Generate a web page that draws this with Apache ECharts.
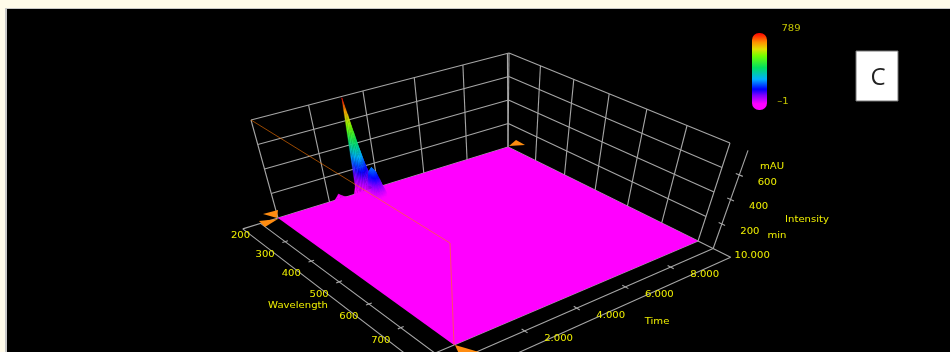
<!DOCTYPE html>
<html>
<head>
<meta charset="utf-8">
<style>
html, body { margin: 0; padding: 0; background: #fffbea; overflow: hidden; }
#main { width: 950px; height: 352px; filter: blur(0.4px); }
</style>
</head>
<body>
<div id="main"></div>
<script src="https://cdn.jsdelivr.net/npm/echarts@6/dist/echarts.min.js"></script>
<script>
// axis ranges and ticks
var wavelengthRange = [200, 800];
var timeRange = [0, 10];
var intensityMax = 800;
var wavelengthTicks = [200, 300, 400, 500, 600, 700];
var timeTicks = [2, 4, 6, 8, 10];
var intensityTicks = [200, 400, 600];
var colorbarMax = '789';
var colorbarMin = '\u20131';

// main peak, rows = wavelength, columns = time
var peakWavelengths = [200, 205, 210, 215, 220, 225, 230, 235, 240, 245, 250, 255, 260, 265, 270, 275, 280, 285, 290, 295, 300];
var peakTimes = [3.0, 3.1, 3.2, 3.3, 3.4, 3.5, 3.6, 3.7, 3.8, 3.9];
var peakIntensity = [
    [0, 60, 789, 650, 500, 360, 240, 140, 60, 0],
    [0, 55, 690, 570, 440, 315, 210, 125, 52, 0],
    [0, 48, 590, 490, 375, 270, 180, 105, 45, 0],
    [0, 40, 490, 405, 315, 225, 150, 90, 38, 0],
    [0, 35, 390, 325, 250, 180, 120, 72, 30, 0],
    [0, 28, 300, 250, 195, 140, 92, 55, 24, 0],
    [0, 22, 220, 185, 145, 105, 70, 42, 18, 0],
    [0, 16, 155, 135, 105, 78, 52, 32, 14, 0],
    [0, 12, 115, 110, 90, 68, 46, 28, 12, 0],
    [0, 14, 130, 140, 120, 90, 60, 32, 12, 0],
    [0, 20, 180, 195, 170, 125, 80, 40, 14, 0],
    [0, 25, 235, 255, 225, 165, 100, 48, 16, 0],
    [0, 28, 265, 285, 255, 185, 115, 52, 18, 0],
    [0, 26, 255, 275, 245, 180, 110, 50, 16, 0],
    [0, 22, 215, 235, 205, 150, 92, 42, 14, 0],
    [0, 16, 160, 175, 155, 112, 68, 32, 10, 0],
    [0, 10, 100, 110, 95, 70, 42, 20, 6, 0],
    [0, 5, 48, 52, 45, 32, 20, 9, 3, 0],
    [0, 2, 16, 18, 15, 11, 7, 3, 1, 0],
    [0, 0, 4, 5, 4, 3, 2, 1, 0, 0],
    [0, 0, 0, 0, 0, 0, 0, 0, 0, 0]
];

// small bump ahead of the main peak
var bumpWavelengths = [200, 210, 220, 230, 240];
var bumpTimes = [2.2, 2.3, 2.4, 2.5, 2.6, 2.7];
var bumpIntensity = [
    [0, 18, 42, 24, 10, 0],
    [0, 14, 32, 20, 8, 0],
    [0, 9, 20, 13, 5, 0],
    [0, 4, 9, 6, 2, 0],
    [0, 0, 0, 0, 0, 0]
];

// rainbow of the colour bar, bottom to top
var rainbow = [
    [0, '#ff00ff'], [0.08, '#ff00ff'], [0.19, '#8000ff'], [0.27, '#0000ff'], [0.4, '#00b0ff'],
    [0.55, '#00e060'], [0.7, '#70ff00'], [0.79, '#e0e000'], [0.88, '#ff9000'], [1, '#ff0000']
];

// view: wall bottom and top corners (left, front, right, back)
var floorQuad = [[278, 218], [454, 345], [698, 241], [508, 147]];
var topQuad = [[251, 120], [450, 243], [730, 143], [509, 53]];

function homography(q) {
    var dx1 = q[1][0] - q[2][0], dx2 = q[3][0] - q[2][0], sx = q[0][0] - q[1][0] + q[2][0] - q[3][0];
    var dy1 = q[1][1] - q[2][1], dy2 = q[3][1] - q[2][1], sy = q[0][1] - q[1][1] + q[2][1] - q[3][1];
    var den = dx1 * dy2 - dx2 * dy1;
    var g = (sx * dy2 - dx2 * sy) / den, h = (dx1 * sy - sx * dy1) / den;
    return [q[1][0] - q[0][0] + g * q[1][0], q[3][0] - q[0][0] + h * q[3][0], q[0][0],
            q[1][1] - q[0][1] + g * q[1][1], q[3][1] - q[0][1] + h * q[3][1], q[0][1], g, h];
}
var floorH = homography(floorQuad), topH = homography(topQuad);

function applyH(m, u, v) {
    var w = m[6] * u + m[7] * v + 1;
    return [(m[0] * u + m[1] * v + m[2]) / w, (m[3] * u + m[4] * v + m[5]) / w];
}

// wavelength, time, intensity -> plain position on the hidden x/y axes
function project(wl, t, z) {
    var u = (wl - wavelengthRange[0]) / (wavelengthRange[1] - wavelengthRange[0]);
    var v = (t - timeRange[0]) / (timeRange[1] - timeRange[0]);
    var a = applyH(floorH, u, v), b = applyH(topH, u, v), k = z / intensityMax;
    return [a[0] + (b[0] - a[0]) * k, a[1] + (b[1] - a[1]) * k];
}

function colorAt(f) {
    f = Math.max(0, Math.min(1, f));
    for (var i = 1; i < rainbow.length; i++) {
        if (f <= rainbow[i][0]) {
            var k = (f - rainbow[i - 1][0]) / (rainbow[i][0] - rainbow[i - 1][0]);
            return echarts.color.lerp(k, [rainbow[i - 1][1], rainbow[i][1]]);
        }
    }
    return rainbow[rainbow.length - 1][1];
}

var wlAxisT = -0.65, wlAxisOuterT = -1.3;
var timeAxisWl = 840, timeAxisOuterWl = 885;
var lineGray = '#a6a6a6';

// frame lines: [from, to, width]
var segments = [];
function seg(a, b) { segments.push([a, b]); }

var wallLevels = intensityTicks.concat([0, intensityMax]);
wallLevels.forEach(function (z) {
    seg([200, 0, z], [200, 10, z]);
    seg([200, 10, z], [800, 10, z]);
});
[0, 2, 4, 6, 8, 10].forEach(function (t) { seg([200, t, 0], [200, t, intensityMax]); });
[300, 400, 500, 600, 700, 800].forEach(function (wl) { seg([wl, 10, 0], [wl, 10, intensityMax]); });
seg([200, 10, 0], [200, 9.93, intensityMax]);

// floor outline and axis lines
seg([200, 0, 0], [200, wlAxisOuterT, 0]);
seg([800, 0, 0], [800, wlAxisOuterT, 0]);
seg([800, 10, 0], [timeAxisOuterWl, 10, 0]);
seg([800, 0, 0], [800, 10, 0]);
seg([200, wlAxisT, 0], [830, wlAxisT, 0]);
seg([200, wlAxisOuterT, 0], [830, wlAxisOuterT, 0]);
seg([timeAxisWl, -1, 0], [timeAxisWl, 10, 0]);
seg([timeAxisOuterWl, -1, 0], [timeAxisOuterWl, 10, 0]);
seg([timeAxisWl, 10, 0], [timeAxisWl, 10, intensityMax]);
wavelengthTicks.slice(1).forEach(function (wl) { seg([wl, wlAxisT - 0.1, 0], [wl, wlAxisT + 0.1, 0]); });
timeTicks.slice(0, 4).forEach(function (t) { seg([timeAxisWl - 8, t, 0], [timeAxisWl + 8, t, 0]); });
intensityTicks.forEach(function (z) { seg([timeAxisWl - 8, 10, z], [timeAxisWl + 8, 10, z]); });

// surface cells, far ones first
var cells = [];
function addCells(wls, ts, vals) {
    for (var i = 0; i < wls.length - 1; i++) {
        for (var j = ts.length - 2; j >= 0; j--) {
            var q = [[wls[i], ts[j], vals[i][j]], [wls[i], ts[j + 1], vals[i][j + 1]],
                     [wls[i + 1], ts[j + 1], vals[i + 1][j + 1]], [wls[i + 1], ts[j], vals[i + 1][j]]];
            if (q[0][2] + q[1][2] + q[2][2] + q[3][2] > 0) cells.push(q);
        }
    }
}
addCells(bumpWavelengths, bumpTimes, bumpIntensity);
addCells(peakWavelengths, peakTimes, peakIntensity);

function renderSeg(params, api) {
    var s = segments[params.dataIndex];
    var a = api.coord(project(s[0][0], s[0][1], s[0][2]));
    var b = api.coord(project(s[1][0], s[1][1], s[1][2]));
    return { type: 'line', shape: { x1: a[0], y1: a[1], x2: b[0], y2: b[1] }, style: { stroke: lineGray, lineWidth: 1.1 } };
}

function renderCell(params, api) {
    var q = cells[params.dataIndex];
    var pts = q.map(function (p) { return api.coord(project(p[0], p[1], p[2])); });
    var zs = q.map(function (p) { return p[2]; });
    var lo = Math.min.apply(null, zs), hi = Math.max.apply(null, zs);
    var loPt = pts[zs.indexOf(lo)], hiPt = pts[zs.indexOf(hi)];
    var fill = colorAt(lo / 789);
    if (hi > lo && Math.abs(hiPt[1] - loPt[1]) > 0.5) {
        var stops = [];
        for (var k = 0; k <= 6; k++) stops.push({ offset: k / 6, color: colorAt((lo + (hi - lo) * k / 6) / 789) });
        fill = new echarts.graphic.LinearGradient(0, loPt[1], 0, hiPt[1], stops, true);
    }
    return { type: 'polygon', shape: { points: pts }, style: { fill: fill, stroke: fill, lineWidth: 0.3 } };
}

function renderFloor(params, api) {
    var pts = [[200, 0], [800, 0], [800, 10], [200, 10]].map(function (p) {
        return api.coord(project(p[0], p[1], 0));
    });
    return { type: 'polygon', shape: { points: pts }, style: { fill: '#ff00ff' } };
}

// cursor: top left edge, then down the front corner
var cursorPath = [[200, 0, intensityMax], [800, 0, intensityMax], [800, 0, 0]];
function renderCursor(params, api) {
    var pts = cursorPath.map(function (p) { return api.coord(project(p[0], p[1], p[2])); });
    return { type: 'polyline', shape: { points: pts }, style: { stroke: 'rgba(255,120,0,0.6)', lineWidth: 1, fill: null } };
}

// orange cursor flags: anchor corner and pixel outline around it
var flags = [
    { at: [200, 0, 0], pts: [[-15, -4], [0, -8], [-1, 0]] },
    { at: [200, 0, 0], pts: [[-19, 3], [0, 1], [-13, 9]] },
    { at: [200, 10, 0], pts: [[1, -1], [17, -2], [8, -7]] },
    { at: [800, 0, 0], pts: [[1, 0], [25, 7], [5, 9]] }
];
function renderFlag(params, api) {
    var f = flags[params.dataIndex];
    var o = api.coord(project(f.at[0], f.at[1], f.at[2]));
    return {
        type: 'polygon',
        shape: { points: f.pts.map(function (p) { return [o[0] + p[0], o[1] + p[1]]; }) },
        style: { fill: '#ff8c10' }
    };
}

// tick labels: text, point on the axis, pixel offset
var tickLabels = [];
wavelengthTicks.forEach(function (wl) { tickLabels.push({ text: String(wl), at: [wl, wlAxisT, 0], off: [-20, 12.5] }); });
timeTicks.forEach(function (t) { tickLabels.push({ text: t.toFixed(3), at: [timeAxisWl, t, 0], off: [t == 10 ? 39 : 34, 7.5] }); });
intensityTicks.forEach(function (z) { tickLabels.push({ text: String(z), at: [timeAxisWl, 10, z], off: [28, 7.5] }); });

var yellow = '#eeee00';
var labelFont = '9px "DejaVu Sans"';

function renderLabel(params, api) {
    var l = tickLabels[params.dataIndex];
    var o = api.coord(project(l.at[0], l.at[1], l.at[2]));
    return {
        type: 'text', x: o[0] + l.off[0], y: o[1] + l.off[1], scaleX: 1.12,
        style: { text: l.text, fill: yellow, font: labelFont, align: 'center', verticalAlign: 'middle' }
    };
}

function layer(list, render) {
    return {
        type: 'custom', coordinateSystem: 'cartesian2d', silent: true, animation: false,
        renderItem: render,
        data: list.map(function (d, i) { return [i, 0]; })
    };
}

function title(text, x, y, fill) {
    return {
        type: 'text', x: x, y: y, scaleX: 1.12, z: 5,
        style: { text: text, fill: fill || yellow, font: labelFont, align: 'center', verticalAlign: 'middle' }
    };
}

var myChart = echarts.init(document.getElementById('main'));
myChart.setOption({
    backgroundColor: '#fffbea',
    animation: false,
    grid: { left: 0, right: 0, top: 0, bottom: 0 },
    xAxis: { type: 'value', min: 0, max: 950, show: false },
    yAxis: { type: 'value', min: 0, max: 352, inverse: true, show: false },
    graphic: [
        { type: 'rect', z: 0, shape: { x: 5, y: 8, width: 945, height: 344 }, style: { fill: '#c8c8c8' } },
        { type: 'rect', z: 1, shape: { x: 7, y: 9, width: 943, height: 343 }, style: { fill: '#000000' } },
        {
            type: 'rect', z: 5, shape: { x: 752, y: 33, width: 15, height: 77, r: 7 },
            style: {
                fill: new echarts.graphic.LinearGradient(0, 1, 0, 0, rainbow.map(function (r) {
                    return { offset: r[0], color: r[1] };
                }))
            }
        },
        title(colorbarMax, 791, 29, '#c4c400'),
        title(colorbarMin, 783, 102, '#c4c400'),
        title('mAU', 772, 167),
        title('Intensity', 807, 220),
        title('min', 777, 236),
        title('Wavelength', 298, 306),
        title('Time', 657, 322),
        { type: 'rect', z: 5, shape: { x: 856, y: 51, width: 42, height: 50 }, style: { fill: '#ffffff', stroke: '#777777', lineWidth: 1 } },
        {
            type: 'text', x: 878, y: 78, z: 6,
            style: { text: 'C', fill: '#222222', font: '24px "Open Sans"', align: 'center', verticalAlign: 'middle' }
        }
    ],
    series: [
        layer(segments, renderSeg),
        layer([0], renderFloor),
        layer(cells, renderCell),
        layer([0], renderCursor),
        layer(flags, renderFlag),
        layer(tickLabels, renderLabel)
    ]
});
</script>
</body>
</html>
